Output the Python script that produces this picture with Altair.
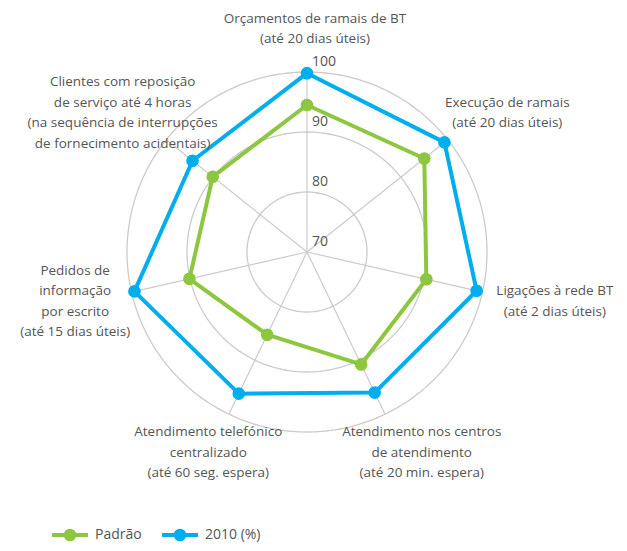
import altair as alt
import numpy as np
import pandas as pd

# ---------------- data ----------------
categories = [
    "Orçamentos de ramais de BT\n(até 20 dias úteis)",
    "Execução de ramais\n(até 20 dias úteis)",
    "Ligações à rede BT\n(até 2 dias úteis)",
    "Atendimento nos centros\nde atendimento\n(até 20 min. espera)",
    "Atendimento telefónico\ncentralizado\n(até 60 seg. espera)",
    "Pedidos de\ninformação\npor escrito\n(até 15 dias úteis)",
    "Clientes com reposição\nde serviço até 4 horas\n(na sequência de interrupções\nde fornecimento acidentais)",
]
series_names = ["Padrão", "2010 (%)"]
padrao = [94.5, 95.0, 90.4, 90.8, 85.3, 90.1, 90.1]
valores_2010 = [99.8, 99.3, 99.0, 96.0, 96.2, 99.5, 94.4]
ring_values = [80, 90, 100]
tick_labels = [70, 80, 90, 100]

# ---------------- layout ----------------
R_MIN, R_MAX = 70, 100
PX = 6.0            # pixels per unit
W, H = 611, 535     # plot area (whole page minus the 8px margins)
CX, CY = 299, 244   # radar centre in plot coordinates
N = len(categories)
LABEL_RX, LABEL_RY = 246 / PX, 223 / PX   # label ellipse radii (units)
LABEL_SHIFT = 8 / PX                       # small rightward shift of labels
LINE_H = 20.5
LEG_X0, LEG_STEP, LEG_Y = 62, 110, 527     # legend layout (plot pixels)
LEG_HALF, LEG_TXT = 18, 25
GREEN, BLUE = "#8dc63f", "#00aeef"
TXT = "#555555"
FONT = "Open Sans"

xs = alt.Scale(domain=[-CX / PX, (W - CX) / PX])
ys = alt.Scale(domain=[-(H - CY) / PX, CY / PX])
cs = alt.Scale(domain=series_names, range=[GREEN, BLUE])

def X(f):
    return alt.X(f, type="quantitative", scale=xs, axis=None)

def Y(f):
    return alt.Y(f, type="quantitative", scale=ys, axis=None)

ang = f"datum.k * 2 * PI / {N}"

# rings
t = np.linspace(0, 2 * np.pi, 241)
rings_df = pd.DataFrame([{"ring": r, "t": tt, "i": j} for r in ring_values for j, tt in enumerate(t)])
rings = alt.Chart(rings_df).transform_calculate(
    x=f"(datum.ring - {R_MIN}) * sin(datum.t)",
    y=f"(datum.ring - {R_MIN}) * cos(datum.t)",
).mark_line(color="#cbcbcb", strokeWidth=1.3).encode(
    x=X("x"), y=Y("y"), detail="ring:N", order="i:Q"
)

# spokes
spokes_df = pd.DataFrame({"k": list(range(N))})
spokes = alt.Chart(spokes_df).transform_calculate(
    x0="0", y0="0",
    x1=f"({R_MAX} - {R_MIN}) * sin({ang})",
    y1=f"({R_MAX} - {R_MIN}) * cos({ang})",
).mark_rule(color="#cbcbcb", strokeWidth=1.2).encode(
    x=X("x0"), y=Y("y0"), x2="x1:Q", y2="y1:Q"
)

# tick labels
ticks_df = pd.DataFrame({"v": tick_labels})
ticks = alt.Chart(ticks_df).transform_calculate(
    x0="0", y=f"datum.v - {R_MIN}", lab="datum.v + ''"
).mark_text(align="left", baseline="bottom", dx=5, dy=-3, fontSize=14,
            font=FONT, color=TXT).encode(x=X("x0"), y=Y("y"), text="lab:N")

# series
rows = []
for s, vals in zip(series_names, [padrao, valores_2010]):
    for i in range(N + 1):
        rows.append({"serie": s, "k": i % N, "o": i, "value": vals[i % N]})
series_df = pd.DataFrame(rows)

base = alt.Chart(series_df).transform_calculate(
    x=f"(datum.value - {R_MIN}) * sin({ang})",
    y=f"(datum.value - {R_MIN}) * cos({ang})",
)
lines = base.mark_line(strokeWidth=4, strokeJoin="round").encode(
    x=X("x"), y=Y("y"), order="o:Q", detail="serie:N",
    color=alt.Color("serie:N", scale=cs, legend=None),
)
points = base.transform_filter(f"datum.o < {N}").mark_point(
    filled=True, size=160, opacity=1
).encode(
    x=X("x"), y=Y("y"),
    color=alt.Color("serie:N", scale=cs, legend=None),
)

# legend (built from the series names)
leg_df = pd.DataFrame({"serie": series_names, "i": list(range(len(series_names)))})
leg = alt.Chart(leg_df).transform_calculate(
    cx=f"({LEG_X0} + datum.i * {LEG_STEP} - {CX}) / {PX}",
    xa=f"({LEG_X0} + datum.i * {LEG_STEP} - {LEG_HALF} - {CX}) / {PX}",
    xb=f"({LEG_X0} + datum.i * {LEG_STEP} + {LEG_HALF} - {CX}) / {PX}",
    xt=f"({LEG_X0} + datum.i * {LEG_STEP} + {LEG_TXT} - {CX}) / {PX}",
    cy=f"({CY} - {LEG_Y}) / {PX}",
)
leg_line = leg.mark_rule(strokeWidth=4).encode(
    x=X("xa"), x2="xb:Q", y=Y("cy"), color=alt.Color("serie:N", scale=cs, legend=None))
leg_pt = leg.mark_point(filled=True, size=160, opacity=1).encode(
    x=X("cx"), y=Y("cy"), color=alt.Color("serie:N", scale=cs, legend=None))
leg_txt = leg.mark_text(align="left", baseline="middle", fontSize=14, font=FONT,
                        color=TXT).encode(x=X("xt"), y=Y("cy"), text="serie:N")

# category labels
labels_df = pd.DataFrame({"k": list(range(N)), "label": categories})
labels = alt.Chart(labels_df).transform_calculate(
    x=f"{LABEL_SHIFT} + {LABEL_RX} * sin({ang})",
    y=f"{LABEL_RY} * cos({ang}) + (length(split(datum.label, '\\n')) - 1) * {LINE_H} / 2 / {PX}",
).mark_text(align="center", baseline="middle", lineBreak="\n", lineHeight=LINE_H,
            fontSize=13.5, font=FONT, color=TXT).encode(x=X("x"), y=Y("y"), text="label:N")

chart = alt.layer(rings, spokes, ticks, lines, points, labels, leg_line, leg_pt, leg_txt).properties(
    width=W, height=H, padding=0, autosize=alt.AutoSizeParams(type="none"),
).configure_view(stroke=None)

chart.save("out.html", embed_options={"renderer": "svg", "actions": False})
